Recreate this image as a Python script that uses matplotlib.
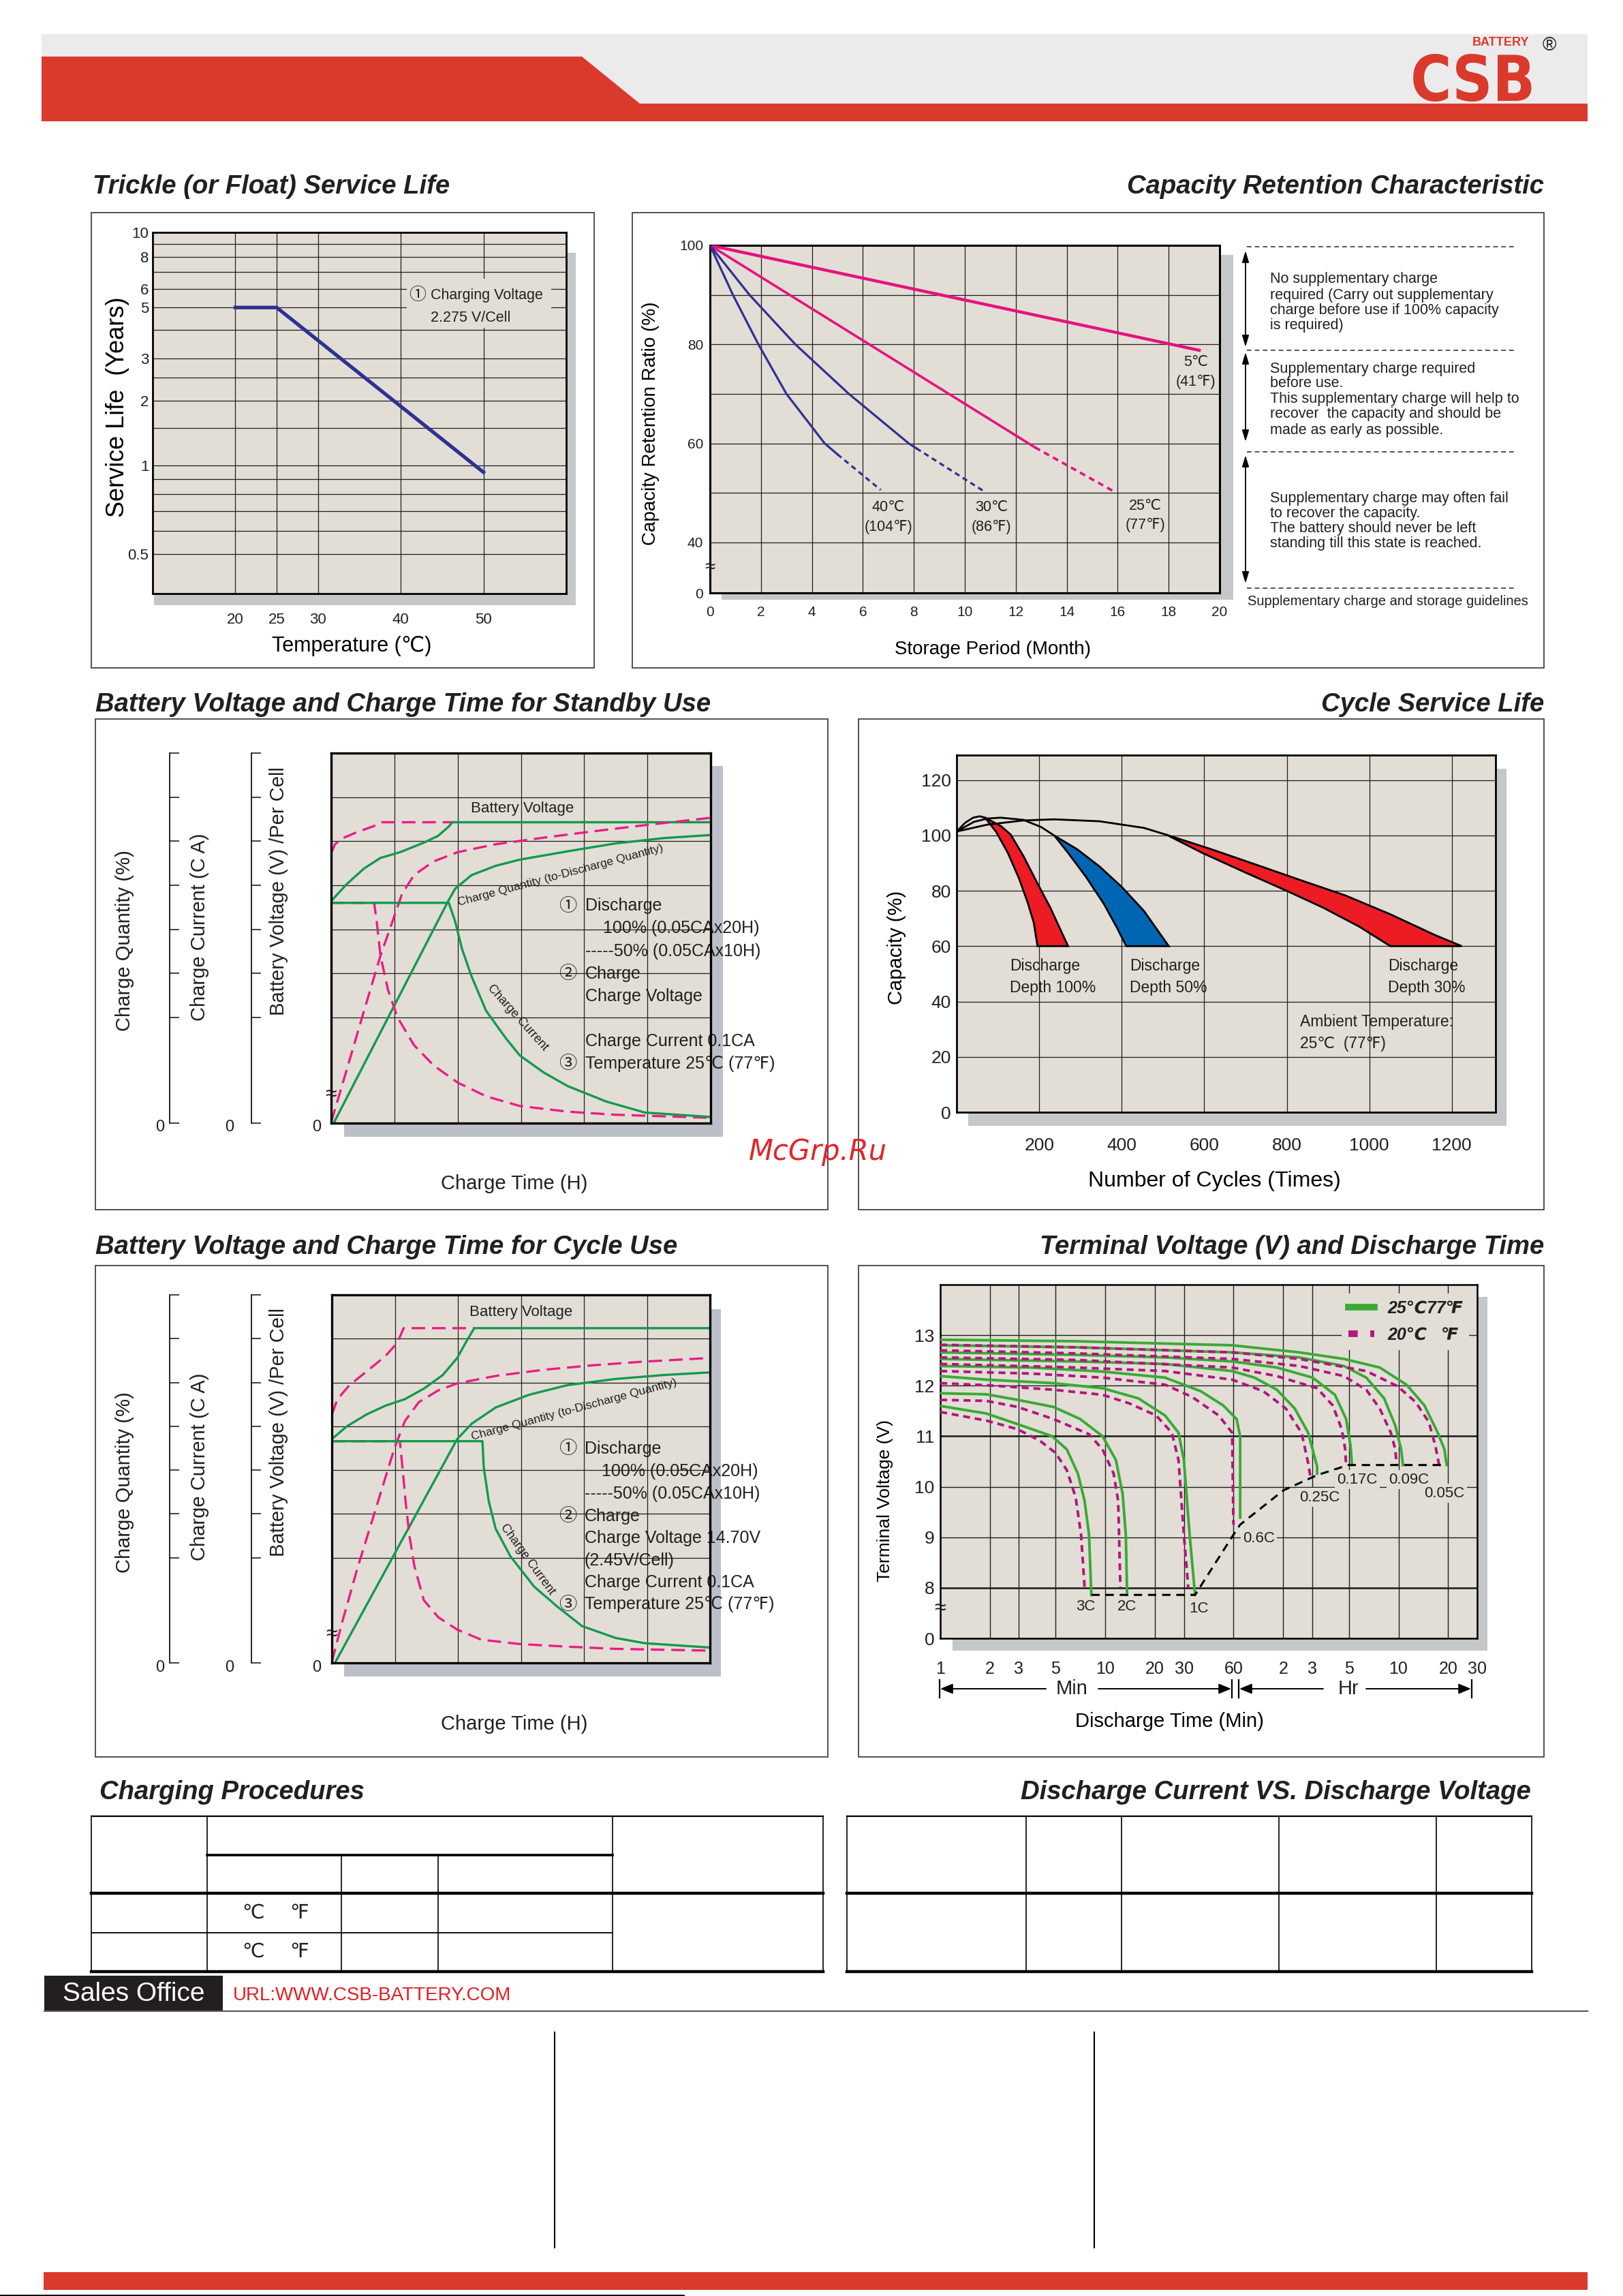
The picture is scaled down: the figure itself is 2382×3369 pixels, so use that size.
import numpy as np
import matplotlib
matplotlib.use('Agg')
import matplotlib.pyplot as plt
from matplotlib import font_manager
from matplotlib.font_manager import FontProperties
from matplotlib.patches import Rectangle, Polygon
from matplotlib.lines import Line2D
from matplotlib.ticker import NullFormatter, NullLocator

W, H = 2382, 3369

# ---------------- data ----------------
# trickle (float) service life
trickle_temp = [20, 25, 50]
trickle_life = [5.0, 5.0, 0.95]
trickle_xticks = [20, 25, 30, 40, 50]
trickle_yticks = [0.5, 1, 2, 3, 5, 6, 8, 10]
trickle_ygrid = [9, 7, 4, 2.5, 1.5, 0.9, 0.8, 0.7, 0.6]

# capacity retention (month, %)
ret_5c = ([0, 19.2], [100, 78.8])
ret_25c = ([0, 12.75], [100, 59.2])
ret_25c_dash = ([12.75, 15.85], [59.2, 50.3])
ret_30c = ([0, 1.55, 3.35, 5.45, 7.8, 8.1], [100, 90, 80, 70, 60, 59.0])
ret_30c_dash = ([8.1, 10.7], [59.0, 50.5])
ret_40c = ([0, 0.9, 1.9, 3.0, 4.5, 5.0], [100, 90, 80, 70, 60, 57.8])
ret_40c_dash = ([5.0, 6.7], [57.8, 50.6])
ret_labels = ['40℃\n(104℉)', '30℃\n(86℉)', '25℃\n(77℉)', '5℃\n(41℉)']
ret_label_x = [7.0, 11.04, 17.08, 19.06]
ret_label_y = [45.1, 45.1, 45.4, 74.4]

# standby use charge curves (grid units: x 0-6, y 0-8.4)
sb_volt_100 = ([0, 0.25, 0.52, 0.78, 1.09, 1.47, 1.69, 1.85, 1.92, 6.0],
               [5.04, 5.43, 5.78, 6.02, 6.15, 6.37, 6.52, 6.72, 6.83, 6.83])
sb_volt_50 = ([0, 0.06, 0.17, 0.40, 0.67, 0.80, 1.92],
              [6.13, 6.33, 6.46, 6.60, 6.74, 6.83, 6.83])
sb_qty_100 = ([0.04, 1.85, 1.96, 2.22, 2.60, 2.98, 3.74, 4.50, 5.26, 6.0],
              [0, 5.04, 5.32, 5.63, 5.84, 5.98, 6.17, 6.35, 6.47, 6.54])
sb_qty_50 = ([0, 0.25, 0.52, 0.78, 0.97, 1.12, 1.31, 1.62, 2.00, 2.60, 3.36, 4.12, 4.88, 6.0],
             [0.02, 1.23, 2.55, 3.80, 4.58, 5.20, 5.63, 5.94, 6.15, 6.33, 6.48, 6.62, 6.75, 6.93])
sb_cur_100 = ([0, 1.86, 1.96, 2.07, 2.22, 2.45, 2.76, 2.98, 3.36, 3.74, 4.35, 4.96, 6.0],
              [5.0, 5.0, 4.58, 3.95, 3.33, 2.55, 1.93, 1.54, 1.15, 0.84, 0.49, 0.24, 0.14])
sb_cur_50 = ([0, 0.68, 0.72, 0.78, 0.90, 1.05, 1.31, 1.62, 2.00, 2.45, 2.98, 3.74, 4.50, 6.0],
             [5.0, 5.0, 4.58, 3.80, 3.02, 2.40, 1.77, 1.31, 0.92, 0.61, 0.39, 0.26, 0.19, 0.12])

# cycle use charge curves
cu_volt_100 = ([0, 0.24, 0.55, 0.85, 1.16, 1.46, 1.76, 1.99, 2.14, 2.26, 6.0],
               [5.11, 5.40, 5.67, 5.87, 6.02, 6.26, 6.57, 6.96, 7.35, 7.64, 7.64])
cu_volt_50 = ([0, 0.09, 0.28, 0.55, 0.85, 1.04, 1.14, 2.26],
              [5.67, 6.02, 6.34, 6.65, 7.00, 7.31, 7.64, 7.64])
cu_qty_100 = ([0.05, 1.99, 2.22, 2.60, 3.13, 3.74, 4.50, 5.26, 6.0],
              [0, 5.11, 5.46, 5.83, 6.12, 6.34, 6.48, 6.57, 6.63])
cu_qty_50 = ([0, 0.17, 0.40, 0.70, 1.00, 1.16, 1.38, 1.69, 1.99, 2.60, 3.36, 4.12, 4.88, 6.0],
             [0.02, 0.96, 2.13, 3.53, 4.93, 5.52, 5.95, 6.22, 6.38, 6.55, 6.69, 6.79, 6.87, 6.96])
cu_cur_100 = ([0, 2.39, 2.41, 2.49, 2.60, 2.83, 3.21, 3.59, 3.97, 4.50, 4.96, 6.0],
              [5.06, 5.06, 4.47, 3.69, 3.06, 2.44, 1.74, 1.27, 0.84, 0.57, 0.45, 0.35])
cu_cur_50 = ([0, 1.08, 1.12, 1.17, 1.23, 1.31, 1.46, 1.69, 1.99, 2.37, 2.98, 3.74, 4.50, 6.0],
             [5.06, 5.06, 4.47, 3.69, 2.91, 2.21, 1.43, 1.04, 0.76, 0.53, 0.43, 0.37, 0.32, 0.28])

# cycle service life (cycles, %)
dod100_outer = ([69, 107, 131, 162, 194, 227, 248, 270], [106.4, 103.4, 100.3, 92.5, 83.2, 73.9, 67.1, 60])
dod100_inner = ([69, 96, 124, 151, 172, 187, 196], [106.4, 101.2, 93.7, 84.5, 75.8, 68.4, 60])
dod50_outer = ([237, 292, 346, 400, 454, 514], [99.9, 95.0, 88.8, 81.4, 72.7, 60])
dod50_inner = ([237, 270, 313, 357, 389, 411], [99.9, 93.7, 85.1, 75.2, 66.5, 60])
dod30_outer = ([509, 617, 726, 834, 942, 1051, 1159, 1224], [100.2, 95.0, 89.4, 83.8, 78.3, 71.5, 64.0, 60])
dod30_inner = ([509, 595, 704, 801, 888, 975, 1051], [100.2, 93.7, 86.3, 79.9, 73.9, 67.1, 60])
life_line_a = ([0, 21, 40, 56, 69], [101.4, 104.6, 106.4, 106.9, 106.4])
life_line_b = ([0, 42, 75, 107, 162, 205, 237], [101.4, 104.9, 106.1, 106.4, 105.6, 103.0, 99.9])
life_line_c = ([0, 75, 162, 237, 346, 454, 509], [101.4, 103.9, 105.4, 105.8, 105.1, 102.7, 100.2])

# terminal voltage vs discharge time (minutes, volts)
tv_3c_25 = ([1.0, 1.90, 2.94, 4.76, 5.85, 6.83, 7.50, 7.98, 8.24],
            [11.60, 11.45, 11.24, 11.00, 10.74, 10.26, 9.72, 9.05, 7.86])
tv_3c_20 = ([1.0, 1.90, 2.94, 4.02, 5.0, 5.85, 6.62, 7.14, 7.50],
            [11.48, 11.31, 11.14, 10.91, 10.67, 10.33, 9.79, 9.05, 8.0])
tv_2c_25 = ([1.0, 1.90, 2.94, 4.85, 7.05, 9.63, 11.61, 12.75, 13.33, 13.58],
            [11.85, 11.83, 11.72, 11.58, 11.34, 11.0, 10.53, 9.86, 9.05, 7.86])
tv_2c_20 = ([1.0, 1.90, 2.94, 4.85, 7.98, 9.63, 11.25, 11.98, 12.36],
            [11.72, 11.70, 11.58, 11.34, 11.04, 10.74, 10.26, 9.72, 8.0])
tv_1c_25 = ([1.0, 1.90, 4.85, 9.63, 15.87, 23.07, 27.82, 29.98, 32.5, 35.06],
            [12.19, 12.12, 12.05, 11.95, 11.75, 11.41, 11.07, 10.53, 9.05, 7.86])
tv_1c_20 = ([1.0, 1.90, 4.85, 9.63, 14.0, 20.37, 25.34, 27.82, 29.98, 31.9],
            [12.05, 12.01, 11.92, 11.82, 11.65, 11.41, 11.07, 10.53, 9.05, 8.0])
tv_06c_25 = ([1.0, 3.55, 9.63, 23.07, 38.0, 51.9, 62.6, 65.8, 65.8],
             [12.39, 12.36, 12.28, 12.16, 11.89, 11.61, 11.34, 11.0, 9.39])
tv_06c_20 = ([1.0, 3.55, 9.63, 23.07, 33.55, 48.8, 58.8, 59.9],
             [12.29, 12.24, 12.16, 12.02, 11.78, 11.41, 11.07, 9.25])
tv_025c_25 = ([1.0, 6.62, 23.07, 58.8, 80.4, 109.8, 140.9, 170.0, 192.6, 192.6],
              [12.53, 12.48, 12.43, 12.29, 12.16, 11.92, 11.55, 11.07, 10.40, 10.26])
tv_025c_20 = ([1.0, 6.62, 23.07, 58.8, 91.0, 124.4, 154.9, 170.0, 175.4],
              [12.43, 12.36, 12.29, 12.12, 11.89, 11.55, 11.07, 10.47, 10.20])
tv_017c_25 = ([1.0, 6.62, 23.07, 58.8, 109.8, 180.9, 247.0, 288.9, 307.5, 313.3],
              [12.66, 12.61, 12.56, 12.48, 12.36, 12.16, 11.82, 11.34, 10.80, 10.43])
tv_017c_20 = ([1.0, 6.62, 58.8, 109.8, 192.6, 239.5, 271.5, 285.2, 288.9],
              [12.56, 12.51, 12.36, 12.19, 11.95, 11.61, 11.14, 10.74, 10.40])
tv_009c_25 = ([1.0, 6.62, 58.8, 150.0, 280.0, 382.6, 491.0, 573.8, 622.5, 638.3],
              [12.80, 12.76, 12.66, 12.56, 12.39, 12.16, 11.75, 11.21, 10.74, 10.43])
tv_009c_20 = ([1.0, 6.62, 58.8, 150.0, 280.0, 382.6, 461.4, 539.2, 573.8, 584.6],
              [12.70, 12.64, 12.53, 12.39, 12.19, 11.92, 11.55, 11.07, 10.74, 10.43])
tv_005c_25 = ([1.0, 6.62, 58.8, 150.0, 280.0, 461.4, 670.9, 861.6, 1038.0, 1139.0, 1175.6],
              [12.91, 12.88, 12.80, 12.66, 12.53, 12.36, 12.02, 11.61, 11.07, 10.74, 10.43])
tv_005c_20 = ([1.0, 6.62, 58.8, 150.0, 382.6, 591.9, 760.3, 916.4, 1006.0, 1057.7],
              [12.81, 12.76, 12.66, 12.53, 12.29, 11.99, 11.68, 11.28, 10.80, 10.43])
tv_cutoff = ([8.24, 35.06, 58.8, 65.8, 120.5, 192.6, 298.0, 1175.6],
             [7.86, 7.86, 9.01, 9.25, 9.93, 10.23, 10.43, 10.43])
tv_rates = ['3C', '2C', '1C', '0.6C', '0.25C', '0.17C', '0.09C', '0.05C']
tv_rate_x = [7.6, 13.5, 36.8, 85.5, 198.6, 337.6, 691.8, 1139.0]
tv_rate_y = [7.63, 7.63, 7.59, 8.98, 9.79, 10.14, 10.14, 9.87]
tv_xticks = [1, 2, 3, 5, 10, 20, 30, 60, 120, 180, 300, 600, 1200, 1800]
tv_xlabels = ['1', '2', '3', '5', '10', '20', '30', '60', '2', '3', '5', '10', '20', '30']
tv_yticks = [7, 8, 9, 10, 11, 12, 13]
tv_ylabels = ['0', '8', '9', '10', '11', '12', '13']

# ---------------- style ----------------
plt.rcParams['font.family'] = ['Liberation Sans', 'DejaVu Sans', 'Noto Sans CJK JP']
plt.rcParams['text.color'] = '#231f20'
plt.rcParams['xtick.color'] = '#231f20'
plt.rcParams['ytick.color'] = '#231f20'
CIRC = ['Noto Sans CJK JP', 'DejaVu Sans']


def is_bold(f):
    w = f.weight
    if isinstance(w, str):
        return 'bold' in w.lower() or w.lower() in ('heavy', 'black')
    return w >= 600


logo_fp = None
for f in font_manager.fontManager.ttflist:
    if str(f.stretch) in ('condensed', 'semi-condensed', 'extra-condensed') and is_bold(f) \
            and f.style == 'normal':
        logo_fp = FontProperties(fname=f.fname, size=66)
        break
if logo_fp is None:
    logo_fp = FontProperties(family='Liberation Sans', weight='bold', size=55)

RED_HDR = '#da3a2c'
GRAY_HDR = '#ebebeb'
PLOT_BG = '#e2ded6'
SHADOW = '#c6c7c9'
SHADOW_B = '#bcbfc8'
GRID = '#1e1e1e'
GREEN = '#129a4e'
MAGENTA = '#ec1c84'
NAVY = '#2e3192'
CR_MAG = '#e6127f'
CL_RED = '#ed1c24'
CL_BLUE = '#0066b3'
TV_GREEN = '#3aaa35'
TV_MAG = '#b3157f'

fig = plt.figure(figsize=(W / 100, H / 100), dpi=100)
bg = fig.add_axes([0, 0, 1, 1])
bg.set_xlim(0, W)
bg.set_ylim(H, 0)
bg.axis('off')


def px_box(x0, y0, x1, y1):
    return [x0 / W, 1 - y1 / H, (x1 - x0) / W, (y1 - y0) / H]


def frac(b, px, py):
    return (px - b[0]) / (b[2] - b[0]), (b[3] - py) / (b[3] - b[1])


def rect(x0, y0, x1, y1, **kw):
    bg.add_patch(Rectangle((x0, y0), x1 - x0, y1 - y0, **kw))


def title(x, y, s, ha):
    bg.text(x, y, s, ha=ha, va='center', fontsize=27.5, fontweight='bold',
            fontstyle='italic')


def set_labels(ax, b, xl, xpos, xs, yl, ypos, ys):
    ax.set_xlabel(xl, fontsize=xs, ha='center', va='center')
    ax.xaxis.set_label_coords(*frac(b, *xpos))
    ax.set_ylabel(yl, fontsize=ys, ha='center', va='center')
    ax.yaxis.set_label_coords(*frac(b, *ypos))


# ---------------- page header ----------------
rect(61, 50, 2330, 152, fc=GRAY_HDR, ec='none')
bg.add_patch(Polygon([(61, 83), (854, 83), (939, 152), (2330, 152), (2330, 178), (61, 178)],
                     closed=True, fc=RED_HDR, ec='none'))
bg.text(2162, 148, 'CSB', ha='center', va='baseline', fontproperties=logo_fp, color=RED_HDR)
bg.text(2203, 67, 'BATTERY', ha='center', va='baseline', fontsize=13, fontweight='bold',
        color=RED_HDR)
bg.text(2274, 74, '®', ha='center', va='baseline', fontsize=20, color='#231f20')

# panel frames
for fr in [(134, 312, 872, 980), (928, 312, 2266, 980), (140, 1055, 1215, 1775),
           (1260, 1055, 2266, 1775), (140, 1857, 1215, 2578), (1260, 1857, 2266, 2578)]:
    rect(*fr, fill=False, ec='#333333', lw=1.2)

title(136, 274, 'Trickle (or Float) Service Life', 'left')
title(2266, 274, 'Capacity Retention Characteristic', 'right')
title(140, 1034, 'Battery Voltage and Charge Time for Standby Use', 'left')
title(2266, 1034, 'Cycle Service Life', 'right')
title(140, 1830, 'Battery Voltage and Charge Time for Cycle Use', 'left')
title(2266, 1830, 'Terminal Voltage (V) and Discharge Time', 'right')
title(146, 2630, 'Charging Procedures', 'left')
title(2247, 2630, 'Discharge Current VS. Discharge Voltage', 'right')

# ---------------- trickle service life ----------------
TR = (224, 341, 831, 871)
rect(226, 371, 845, 888, fc=SHADOW, ec='none')
ax1 = fig.add_axes(px_box(*TR))
ax1.set_facecolor(PLOT_BG)
knot_v = np.log10([0.365, 0.5, 1, 2, 3, 5, 6, 8, 10])
knot_p = [0, 0.110, 0.354, 0.534, 0.650, 0.792, 0.844, 0.932, 1.0]


def life_fwd(v):
    return np.interp(np.log10(np.clip(np.asarray(v, float), 1e-3, None)), knot_v, knot_p)


def life_inv(p):
    return 10 ** np.interp(np.asarray(p, float), knot_p, knot_v)


ax1.set_yscale('function', functions=(life_fwd, life_inv))
ax1.set_xlim(10, 60)
ax1.set_ylim(0.365, 10)
ax1.set_xticks(trickle_xticks)
ax1.set_yticks(trickle_yticks, labels=[f'{v:g}' for v in trickle_yticks])
ax1.set_yticks(trickle_ygrid, minor=True)
ax1.yaxis.set_minor_formatter(NullFormatter())
ax1.xaxis.set_minor_locator(NullLocator())
ax1.grid(True, which='both', axis='y', color=GRID, lw=0.9)
ax1.grid(True, which='major', axis='x', color=GRID, lw=0.9)
ax1.set_axisbelow(True)
ax1.tick_params(which='both', length=0, labelsize=16)
ax1.tick_params(axis='x', pad=20)
ax1.tick_params(axis='y', pad=4)
for s in ax1.spines.values():
    s.set_linewidth(2)
ax1.plot(trickle_temp, trickle_life, color=NAVY, lw=3.8, zorder=3)
ax1.add_patch(Rectangle((0.614, 0.736), 0.35, 0.135, transform=ax1.transAxes,
                        fc=PLOT_BG, ec='none', zorder=1))
ax1.text(0.619, 0.826, '①', transform=ax1.transAxes, fontsize=18, family=CIRC,
         ha='left', va='center', zorder=3)
ax1.text(0.672, 0.826, 'Charging Voltage', transform=ax1.transAxes, fontsize=15.5,
         ha='left', va='center', zorder=3)
ax1.text(0.672, 0.764, '2.275 V/Cell', transform=ax1.transAxes, fontsize=15.5,
         ha='left', va='center', zorder=3)
set_labels(ax1, TR, 'Temperature (℃)', (516, 948), 22, 'Service Life  (Years)', (172, 597), 26)

# ---------------- capacity retention ----------------
CR = (1042, 360, 1790, 870)
rect(1059, 374, 1810, 880, fc=SHADOW, ec='none')
ax2 = fig.add_axes(px_box(*CR))
ax2.set_facecolor(PLOT_BG)
ax2.set_xlim(0, 20)
ax2.set_ylim(29.8, 100)
ax2.set_xticks(range(0, 21, 2))
ax2.set_yticks([29.8, 40, 60, 80, 100], labels=['0', '40', '60', '80', '100'])
ax2.set_yticks([50, 70, 90], minor=True)
ax2.yaxis.set_minor_formatter(NullFormatter())
ax2.grid(True, which='both', color=GRID, lw=0.9)
ax2.set_axisbelow(True)
ax2.tick_params(which='both', length=0, labelsize=15)
ax2.tick_params(axis='x', pad=14)
ax2.tick_params(axis='y', pad=7)
for s in ax2.spines.values():
    s.set_linewidth(2.2)
ax2.plot(*ret_5c, color=CR_MAG, lw=3.2, zorder=3)
ax2.plot(*ret_25c, color=CR_MAG, lw=2.6, zorder=3)
ax2.plot(*ret_25c_dash, color=CR_MAG, lw=2.6, ls=(0, (2.4, 1.8)), zorder=3)
ax2.plot(*ret_30c, color=NAVY, lw=2.3, zorder=3)
ax2.plot(*ret_30c_dash, color=NAVY, lw=2.3, ls=(0, (2.4, 1.8)), zorder=3)
ax2.plot(*ret_40c, color=NAVY, lw=2.3, zorder=3)
ax2.plot(*ret_40c_dash, color=NAVY, lw=2.3, ls=(0, (2.4, 1.8)), zorder=3)
for s, x, y in zip(ret_labels, ret_label_x, ret_label_y):
    ax2.text(x, y, s, ha='center', va='center', fontsize=15.5, linespacing=1.45, zorder=4)
ax2.text(0, 34.9, '≈', ha='center', va='center', fontsize=20, clip_on=False, zorder=5)
set_labels(ax2, CR, 'Storage Period (Month)', (1457, 953), 20,
           'Capacity Retention Ratio (%)', (955, 621), 20)

# storage guideline notes
for y in [362, 514, 663, 863]:
    bg.plot([1830, 2225], [y, y], color='#333333', lw=1.2, ls=(0, (4, 3)))
for y0, y1 in [(368, 509), (517, 648), (668, 856)]:
    bg.annotate('', xy=(1828, y0), xytext=(1828, y1),
                arrowprops=dict(arrowstyle='<|-|>,head_length=1.0,head_width=0.3',
                                color='black', lw=1.3, shrinkA=0, shrinkB=0))
note_lines = ['No supplementary charge', 'required (Carry out supplementary',
              'charge before use if 100% capacity', 'is required)',
              'Supplementary charge required', 'before use.',
              'This supplementary charge will help to', 'recover  the capacity and should be',
              'made as early as possible.',
              'Supplementary charge may often fail', 'to recover the capacity.',
              'The battery should never be left', 'standing till this state is reached.']
note_y = [410, 433, 455, 477, 541, 563, 586, 608, 631, 731, 753, 776, 798]
for s, y in zip(note_lines, note_y):
    bg.text(1864, y, s, ha='left', va='center', fontsize=15.5)
bg.text(1831, 883, 'Supplementary charge and storage guidelines', ha='left', va='center',
        fontsize=14.5)

# ---------------- charge curves (standby / cycle) ----------------
grid_y = [2.4, 3.4, 4.4, 5.4, 6.4, 7.4]


def charge_panel(b, shade, series, bv_xy, cq_xy, cq_rot, cc_xy, cc_rot,
                 num_x, nums, notes, lab_y, zero_y, time_y):
    rect(*shade, fc=SHADOW_B, ec='none')
    ax = fig.add_axes(px_box(*b))
    ax.set_facecolor(PLOT_BG)
    ax.set_xlim(0, 6)
    ax.set_ylim(0, 8.4)
    ax.set_xticks([1, 2, 3, 4, 5])
    ax.set_yticks(grid_y)
    ax.grid(True, color=GRID, lw=0.9)
    ax.set_axisbelow(True)
    ax.tick_params(length=0, labelbottom=False, labelleft=False)
    for s in ax.spines.values():
        s.set_linewidth(2.4)
        s.set_zorder(6)
    for (xs, ys), col, dashed in series:
        ax.plot(xs, ys, color=col, lw=2.4, ls=(0, (6, 3)) if dashed else '-', zorder=3)
    ax.text(*bv_xy, 'Battery Voltage', fontsize=16, ha='center', va='center', zorder=4)
    ax.text(*cq_xy, 'Charge Quantity (to-Discharge Quantity)', fontsize=12.5, ha='center',
            va='center', rotation=cq_rot, rotation_mode='anchor', zorder=4)
    ax.text(*cc_xy, 'Charge Current', fontsize=13, ha='center', va='center',
            rotation=cc_rot, rotation_mode='anchor', zorder=4)
    for s, y in nums:
        ax.text(num_x, y, s, fontsize=19, family=CIRC, ha='left', va='center', zorder=2,
                clip_on=False)
    for x, y, s in notes:
        ax.text(x, y, s, fontsize=18, ha='left', va='center', zorder=2, clip_on=False)
    ax.text(0, 0.65, '≈', ha='center', va='center', fontsize=22, clip_on=False, zorder=7)
    for sx in (249, 369):
        sa = fig.add_axes(px_box(sx, b[1], sx + 1, b[3]))
        sa.patch.set_visible(False)
        for k in ('top', 'right', 'bottom'):
            sa.spines[k].set_visible(False)
        sa.spines['left'].set_linewidth(1.2)
        sa.set_xticks([])
        sa.set_ylim(0, 8.4)
        sa.set_yticks([0] + grid_y + [8.4])
        sa.set_yticklabels([])
        sa.tick_params(axis='y', direction='in', length=10, width=1.2)
    for zx in (235, 337, 465):
        bg.text(zx, zero_y, '0', fontsize=17, ha='center', va='center')
    bg.text(183, lab_y[0], 'Charge Quantity (%)', rotation=90, fontsize=21, ha='center', va='center')
    bg.text(293, lab_y[1], 'Charge Current (C A)', rotation=90, fontsize=21, ha='center', va='center')
    bg.text(409, lab_y[2], 'Battery Voltage (V) /Per Cell', rotation=90, fontsize=21,
            ha='center', va='center')
    bg.text((b[0] + b[2]) / 2 - 10, time_y, 'Charge Time (H)', fontsize=21, ha='center', va='center')
    return ax


SB = (486, 1105, 1043, 1648)
charge_panel(SB, (505, 1124, 1061, 1668),
             [(sb_volt_50, MAGENTA, True), (sb_volt_100, GREEN, False),
              (sb_qty_50, MAGENTA, True), (sb_qty_100, GREEN, False),
              (sb_cur_50, MAGENTA, True), (sb_cur_100, GREEN, False)],
             (3.02, 7.14), (3.63, 5.63), 15, (2.95, 2.40), -48,
             3.60, [('①', 4.93), ('②', 3.39), ('③', 1.35)],
             [(4.02, 4.93, 'Discharge'), (4.30, 4.42, '100% (0.05CAx20H)'),
              (4.02, 3.90, '-----50% (0.05CAx10H)'), (4.02, 3.39, 'Charge'),
              (4.02, 2.88, 'Charge Voltage'), (4.02, 1.85, 'Charge Current 0.1CA'),
              (4.02, 1.35, 'Temperature 25℃ (77℉)')],
             (1380, 1360, 1307), 1654, 1737)

CU = (487, 1900, 1042, 2440)
charge_panel(CU, (505, 1921, 1058, 2460),
             [(cu_volt_50, MAGENTA, True), (cu_volt_100, GREEN, False),
              (cu_qty_50, MAGENTA, True), (cu_qty_100, GREEN, False),
              (cu_cur_50, MAGENTA, True), (cu_cur_100, GREEN, False)],
             (3.0, 8.01), (3.84, 5.78), 15, (3.11, 2.36), -54,
             3.60, [('①', 4.89), ('②', 3.35), ('③', 1.33)],
             [(4.01, 4.89, 'Discharge'), (4.28, 4.37, '100% (0.05CAx20H)'),
              (4.01, 3.86, '-----50% (0.05CAx10H)'), (4.01, 3.35, 'Charge'),
              (4.01, 2.84, 'Charge Voltage 14.70V'), (4.01, 2.34, '(2.45V/Cell)'),
              (4.01, 1.83, 'Charge Current 0.1CA'), (4.01, 1.33, 'Temperature 25℃ (77℉)')],
             (2175, 2152, 2101), 2447, 2530)

# ---------------- cycle service life ----------------
CL = (1404, 1108, 2195, 1632)
rect(1421, 1128, 2211, 1652, fc=SHADOW, ec='none')
ax4 = fig.add_axes(px_box(*CL))
ax4.set_facecolor(PLOT_BG)
ax4.set_xlim(0, 1306)
ax4.set_ylim(0, 129)
ax4.set_xticks(range(200, 1201, 200))
ax4.set_yticks(range(0, 121, 20))
ax4.grid(True, color=GRID, lw=0.9)
ax4.set_axisbelow(True)
ax4.tick_params(length=0, labelsize=19)
ax4.tick_params(axis='x', pad=27)
ax4.tick_params(axis='y', pad=6)
for s in ax4.spines.values():
    s.set_linewidth(2)
for outer, inner, col in [(dod100_outer, dod100_inner, CL_RED), (dod50_outer, dod50_inner, CL_BLUE),
                          (dod30_outer, dod30_inner, CL_RED)]:
    ax4.fill(np.r_[outer[0], inner[0][::-1]], np.r_[outer[1], inner[1][::-1]],
             fc=col, ec='black', lw=2, zorder=3)
for ln in (life_line_a, life_line_b, life_line_c):
    ax4.plot(*ln, color='black', lw=2, zorder=4)
for x, s in [(129, 'Depth 100%'), (420, 'Depth 50%'), (1045, 'Depth 30%')]:
    ax4.text(x, 52.9, 'Discharge', fontsize=16.5, va='center', zorder=5)
    ax4.text(x, 45.0, s, fontsize=16.5, va='center', zorder=5)
ax4.text(832, 32.7, 'Ambient Temperature:', fontsize=16.5, va='center', zorder=5)
ax4.text(832, 24.8, '25℃  (77℉)', fontsize=16.5, va='center', zorder=5)
set_labels(ax4, CL, 'Number of Cycles (Times)', (1782, 1733), 23, 'Capacity (%)', (1316, 1390), 21)

# ---------------- terminal voltage ----------------
TV = (1380, 1885, 2168, 2404)
rect(1398, 1903, 2183, 2422, fc=SHADOW, ec='none')
ax6 = fig.add_axes(px_box(*TV))
ax6.set_facecolor(PLOT_BG)
ax6.set_xscale('log')
ax6.set_xlim(1, 1800)
ax6.set_ylim(7, 14)
ax6.set_xticks(tv_xticks, labels=tv_xlabels)
ax6.xaxis.set_minor_locator(NullLocator())
ax6.set_yticks(tv_yticks, labels=tv_ylabels)
ax6.grid(True, color=GRID, lw=1.0)
ax6.axhline(8, color=GRID, lw=1.8, zorder=0.6)
ax6.axhline(11, color=GRID, lw=1.8, zorder=0.6)
ax6.set_axisbelow(True)
ax6.tick_params(length=0)
ax6.tick_params(axis='x', labelsize=18, pad=24)
ax6.tick_params(axis='y', labelsize=19, pad=6)
for s in ax6.spines.values():
    s.set_linewidth(1.8)
pairs = [(tv_3c_20, tv_3c_25), (tv_2c_20, tv_2c_25), (tv_1c_20, tv_1c_25), (tv_06c_20, tv_06c_25),
         (tv_025c_20, tv_025c_25), (tv_017c_20, tv_017c_25), (tv_009c_20, tv_009c_25),
         (tv_005c_20, tv_005c_25)]
for c20, c25 in pairs:
    ax6.plot(*c20, color=TV_MAG, lw=2.8, ls=(0, (2.6, 1.8)), zorder=3)
    ax6.plot(*c25, color=TV_GREEN, lw=2.8, zorder=3)
ax6.plot(*tv_cutoff, color='black', lw=2.2, ls=(0, (4, 2.8)), zorder=4)
for s, x, y in zip(tv_rates, tv_rate_x, tv_rate_y):
    ax6.text(x, y, s, fontsize=16, ha='center', va='center', zorder=5,
             bbox=dict(boxstyle='square,pad=0.15', fc=PLOT_BG, ec='none'))
ax6.text(1, 7.6, '≈', ha='center', va='center', fontsize=22, clip_on=False, zorder=7)
handles = [Line2D([], [], color=TV_GREEN, lw=7),
           Line2D([], [], color=TV_MAG, lw=7, ls=(0, (1.4, 1.9)))]
leg = ax6.legend(handles, ['25℃77℉', '20℃   ℉'], loc='upper right',
                 bbox_to_anchor=(0.985, 0.975), borderaxespad=0, handlelength=1.5,
                 frameon=True, fancybox=False, facecolor=PLOT_BG, edgecolor='none', framealpha=1,
                 prop=dict(size=18, weight='bold', style='italic'), labelspacing=0.6)
set_labels(ax6, TV, 'Discharge Time (Min)', (1716, 2526), 21, 'Terminal Voltage (V)', (1299, 2202), 19)

# Min / Hr arrows
for x in (1379, 1808, 1818, 2160):
    bg.plot([x, x], [2465, 2491], color='black', lw=1.6)
arrow = dict(arrowstyle='-|>,head_length=1.1,head_width=0.45', color='black', lw=1.4,
             shrinkA=0, shrinkB=0)
bg.annotate('', xy=(1380, 2478), xytext=(1535, 2478), arrowprops=arrow)
bg.annotate('', xy=(1807, 2478), xytext=(1612, 2478), arrowprops=arrow)
bg.annotate('', xy=(1819, 2478), xytext=(1942, 2478), arrowprops=arrow)
bg.annotate('', xy=(2159, 2478), xytext=(2005, 2478), arrowprops=arrow)
bg.text(1573, 2478, 'Min', fontsize=21, ha='center', va='center')
bg.text(1979, 2478, 'Hr', fontsize=21, ha='center', va='center')

# ---------------- tables ----------------
for x0, x1 in [(134, 1208), (1243, 2248)]:
    bg.plot([x0, x1], [2665, 2665], color='black', lw=1.6)
    bg.plot([x0, x1], [2778, 2778], color='black', lw=3.2)
    bg.plot([x0, x1], [2893, 2893], color='black', lw=3.2)
bg.plot([134, 899], [2836, 2836], color='black', lw=1.3)
bg.plot([304, 899], [2722, 2722], color='black', lw=2.6)
for x, y0 in [(134, 2665), (304, 2665), (501, 2722), (643, 2722), (899, 2665), (1208, 2665)]:
    bg.plot([x, x], [y0, 2893], color='black', lw=1.2)
for x in [1243, 1506, 1646, 1877, 2108, 2248]:
    bg.plot([x, x], [2665, 2893], color='black', lw=1.2)
for y in (2807, 2864):
    bg.text(372, y, '℃', fontsize=21, ha='center', va='center')
    bg.text(439, y, '℉', fontsize=21, ha='center', va='center')

# ---------------- footer ----------------
rect(65, 2899, 327, 2952, fc='#231f20', ec='none')
bg.text(196, 2926, 'Sales Office', fontsize=28, color='white', ha='center', va='center')
bg.text(342, 2928, 'URL:WWW.CSB-BATTERY.COM', fontsize=20, color='#e31e24', ha='left', va='center')
bg.plot([65, 2330], [2951, 2951], color='#555555', lw=1.5)
for x in (814, 1606):
    bg.plot([x, x], [2982, 3298], color='black', lw=1.5)
rect(64, 3334, 2330, 3360, fc=RED_HDR, ec='none')
bg.plot([0, 1003], [3367.5, 3367.5], color='black', lw=2)

fig.text(1200 / W, 1 - 1690 / H, 'McGrp.Ru', fontsize=30, color='#e0262b', fontstyle='italic',
         family='DejaVu Sans', ha='center', va='center')

fig.savefig('out.png', dpi=100, facecolor='white')
